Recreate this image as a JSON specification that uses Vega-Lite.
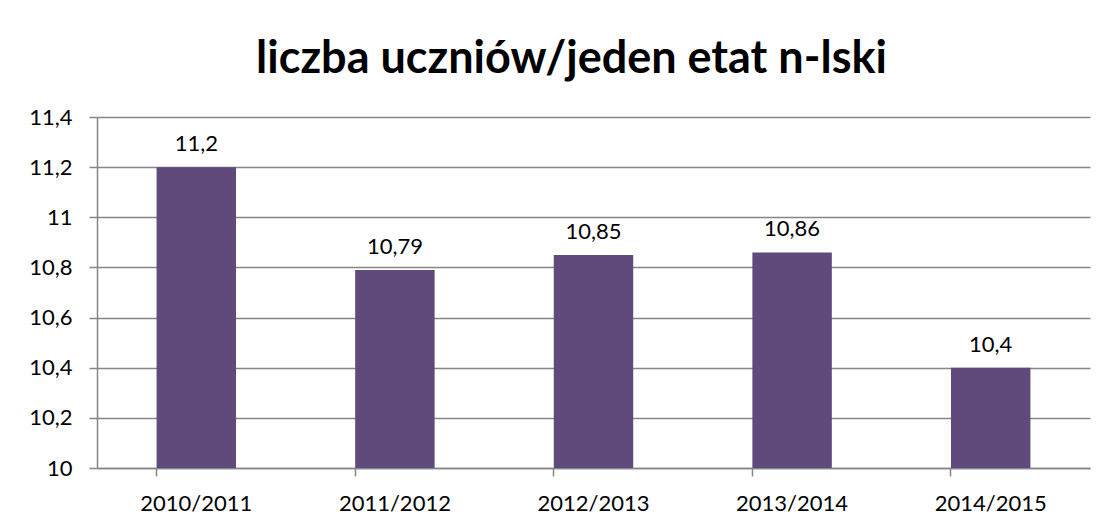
{
  "$schema": "https://vega.github.io/schema/vega-lite/v6.json",
  "width": 993,
  "height": 351,
  "autosize": "none",
  "padding": {"left": 97, "top": 117, "right": 16, "bottom": 56},
  "background": "white",
  "title": {
    "text": "liczba uczniów/jeden etat n-lski",
    "font": "Lato",
    "fontSize": 45,
    "fontWeight": "bold",
    "color": "black",
    "anchor": "middle",
    "dx": -22,
    "offset": 24
  },
  "config": {
    "locale": {"number": {"decimal": ",", "thousands": " ", "grouping": [3], "currency": ["", ""]}},
    "view": {"stroke": null},
    "font": "Lato"
  },
  "data": {
    "values": [
      {"rok": "2010/2011", "wartosc": 11.2},
      {"rok": "2011/2012", "wartosc": 10.79},
      {"rok": "2012/2013", "wartosc": 10.85},
      {"rok": "2013/2014", "wartosc": 10.86},
      {"rok": "2014/2015", "wartosc": 10.4}
    ]
  },
  "encoding": {
    "x": {
      "field": "rok",
      "type": "nominal",
      "sort": null,
      "scale": {"paddingInner": 0.6, "paddingOuter": 0.3},
      "axis": {
        "title": null,
        "labelAngle": 0,
        "domainColor": "#868686",
        "domainWidth": 1.5,
        "tickColor": "#868686",
        "tickWidth": 1.5,
        "tickSize": 8,
        "bandPosition": 0,
        "labelFont": "Lato",
        "labelFontSize": 22,
        "labelColor": "black",
        "labelPadding": 17,
        "grid": false
      }
    },
    "y": {
      "field": "wartosc",
      "type": "quantitative",
      "scale": {"domain": [10, 11.4], "nice": false, "zero": false},
      "axis": {
        "title": null,
        "values": [10, 10.2, 10.4, 10.6, 10.8, 11, 11.2, 11.4],
        "format": "~g",
        "grid": true,
        "gridColor": "#868686",
        "gridWidth": 1.5,
        "domainColor": "#868686",
        "domainWidth": 1.5,
        "tickColor": "#868686",
        "tickWidth": 1.5,
        "tickSize": 8,
        "labelFont": "Lato",
        "labelFontSize": 22,
        "labelPadding": 17,
        "labelColor": "black"
      }
    }
  },
  "layer": [
    {
      "mark": {"type": "bar", "color": "#604A7B"},
      "encoding": {"y2": {"datum": 10}}
    },
    {
      "mark": {"type": "text", "baseline": "alphabetic", "dy": -16, "fontSize": 22, "font": "Lato", "color": "black"},
      "encoding": {"text": {"field": "wartosc", "type": "quantitative", "format": ".4~g"}}
    }
  ]
}
